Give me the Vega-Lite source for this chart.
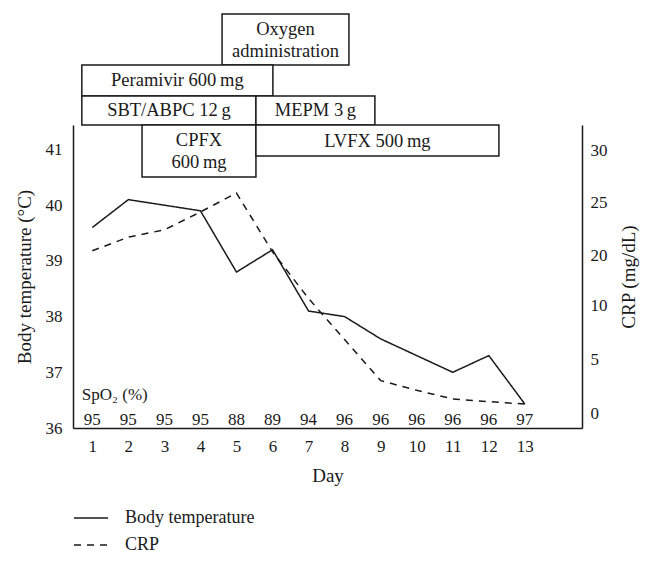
{
  "$schema": "https://vega.github.io/schema/vega-lite/v6.json",
  "width": 509,
  "height": 303,
  "autosize": {"type": "none"},
  "padding": {"left": 73, "top": 125, "right": 72, "bottom": 134},
  "config": {
    "font": "Liberation Serif",
    "view": {"stroke": null},
    "axis": {
      "labelFont": "Liberation Serif",
      "titleFont": "Liberation Serif",
      "labelColor": "#1a1a1a",
      "titleColor": "#1a1a1a",
      "domainColor": "#1a1a1a",
      "domainWidth": 1.5,
      "ticks": false,
      "tickSize": 0,
      "grid": false,
      "labelFontSize": 17,
      "titleFontSize": 19,
      "titleFontWeight": "normal"
    },
    "text": {"font": "Liberation Serif", "color": "#1a1a1a"}
  },
  "datasets": {
    "daily": [
      {"day": 1, "temp": 39.6, "crp": 20.4, "spo2": 95},
      {"day": 2, "temp": 40.1, "crp": 21.7, "spo2": 95},
      {"day": 3, "temp": 40.0, "crp": 22.4, "spo2": 95},
      {"day": 4, "temp": 39.9, "crp": 24.1, "spo2": 95},
      {"day": 5, "temp": 38.8, "crp": 25.9, "spo2": 88},
      {"day": 6, "temp": 39.2, "crp": 20.3, "spo2": 89},
      {"day": 7, "temp": 38.1, "crp": 11.3, "spo2": 94},
      {"day": 8, "temp": 38.0, "crp": 6.8, "spo2": 96},
      {"day": 9, "temp": 37.6, "crp": 3.0, "spo2": 96},
      {"day": 10, "temp": 37.3, "crp": 2.1, "spo2": 96},
      {"day": 11, "temp": 37.0, "crp": 1.3, "spo2": 96},
      {"day": 12, "temp": 37.3, "crp": 1.05, "spo2": 96},
      {"day": 13, "temp": 36.43, "crp": 0.83, "spo2": 97}
    ],
    "boxes": [
      {"label": "Oxygen\nadministration", "start": 4.6, "end": 8.12, "top": 43.433, "bottom": 42.517},
      {"label": "Peramivir 600\u2009mg", "start": 0.71, "end": 6.01, "top": 42.517, "bottom": 41.961},
      {"label": "SBT/ABPC 12\u2009g", "start": 0.71, "end": 5.54, "top": 41.961, "bottom": 41.44},
      {"label": "MEPM 3\u2009g", "start": 5.54, "end": 8.84, "top": 41.961, "bottom": 41.44},
      {"label": "CPFX\n600\u2009mg", "start": 2.38, "end": 5.54, "top": 41.44, "bottom": 40.506},
      {"label": "LVFX 500\u2009mg", "start": 5.54, "end": 12.28, "top": 41.44, "bottom": 40.883}
    ]
  },
  "layer": [
    {
      "layer": [
        {
          "data": {"name": "boxes"},
          "mark": {"type": "rect", "fill": "white", "stroke": "#1a1a1a", "strokeWidth": 1.5},
          "encoding": {
            "x": {"field": "start", "type": "quantitative", "title": "Day",
                  "scale": {"domain": [0.465, 14.585], "nice": false, "zero": false},
                  "axis": {"values": [1,2,3,4,5,6,7,8,9,10,11,12,13], "format": "d", "labelPadding": 10, "titlePadding": 12, "labelFlush": false}},
            "x2": {"field": "end"},
            "y": {"field": "top", "type": "quantitative", "title": "Body temperature (°C)",
                  "scale": {"domain": [36, 41.44], "nice": false, "zero": false},
                  "axis": {"values": [36, 37, 38, 39, 40, 41], "format": "d", "labelPadding": 11, "titlePadding": 11, "labelFlush": false}},
            "y2": {"field": "bottom"}
          }
        },
        {
          "data": {"name": "boxes"},
          "transform": [
            {"filter": "indexof(datum.label, '\\n') < 0"},
            {"calculate": "(datum.start + datum.end) / 2", "as": "xmid"},
            {"calculate": "(datum.top + datum.bottom) / 2", "as": "ymid"}
          ],
          "mark": {"type": "text", "fontSize": 18.5, "baseline": "middle"},
          "encoding": {
            "x": {"field": "xmid", "type": "quantitative", "title": "Day"},
            "y": {"field": "ymid", "type": "quantitative", "title": "Body temperature (°C)"},
            "text": {"field": "label"}
          }
        },
        {
          "data": {"name": "boxes"},
          "transform": [
            {"filter": "indexof(datum.label, '\\n') >= 0"},
            {"calculate": "(datum.start + datum.end) / 2", "as": "xmid"},
            {"calculate": "(datum.top + datum.bottom) / 2", "as": "ymid"}
          ],
          "mark": {"type": "text", "lineBreak": "\n", "fontSize": 18.5, "lineHeight": 22, "baseline": "middle", "dy": -11},
          "encoding": {
            "x": {"field": "xmid", "type": "quantitative", "title": "Day"},
            "y": {"field": "ymid", "type": "quantitative", "title": "Body temperature (°C)"},
            "text": {"field": "label"}
          }
        },
        {
          "data": {"name": "daily"},
          "mark": {"type": "text", "fontSize": 17, "baseline": "middle"},
          "encoding": {
            "x": {"field": "day", "type": "quantitative", "title": "Day"},
            "y": {"datum": 36.14},
            "text": {"field": "spo2"}
          }
        },
        {
          "data": {"values": [{"label": "SpO\u2082 (%)"}]},
          "mark": {"type": "text", "fontSize": 17, "align": "left", "baseline": "middle"},
          "encoding": {
            "x": {"datum": 0.71},
            "y": {"datum": 36.59},
            "text": {"field": "label"}
          }
        },
        {
          "data": {"name": "daily"},
          "mark": {"type": "line", "color": "#1a1a1a", "strokeWidth": 1.5},
          "encoding": {
            "x": {"field": "day", "type": "quantitative", "title": "Day"},
            "y": {"field": "temp", "type": "quantitative", "title": "Body temperature (°C)"},
            "strokeDash": {
              "datum": "Body temperature", "type": "nominal",
              "scale": {"domain": ["Body temperature", "CRP"], "range": [[1, 0], [7, 6]]},
              "legend": {
                "orient": "none", "legendX": 0, "legendY": 375, "title": null,
                "symbolType": "stroke", "symbolSize": 1156, "symbolStrokeWidth": 1.5,
                "symbolStrokeColor": "#1a1a1a", "labelFontSize": 18, "labelFont": "Liberation Serif",
                "labelColor": "#1a1a1a", "labelOffset": 16, "rowPadding": -6, "padding": 0
              }
            }
          }
        }
      ]
    },
    {
      "data": {"name": "daily"},
      "mark": {"type": "line", "color": "#1a1a1a", "strokeWidth": 1.5},
      "encoding": {
        "x": {"field": "day", "type": "quantitative", "title": "Day"},
        "y": {"field": "crp", "type": "quantitative", "title": "CRP (mg/dL)",
              "scale": {"domain": [-1.39, 0, 10, 20, 30, 32.38], "range": [303, 288, 180, 130, 25, 0], "nice": false, "zero": false},
              "axis": {"orient": "right", "values": [0, 5, 10, 20, 25, 30], "labelPadding": 8, "titlePadding": 12, "titleAngle": -90, "titleBaseline": "top", "labelFlush": false}},
        "strokeDash": {"datum": "CRP", "type": "nominal"}
      }
    }
  ],
  "resolve": {"scale": {"y": "independent"}}
}
